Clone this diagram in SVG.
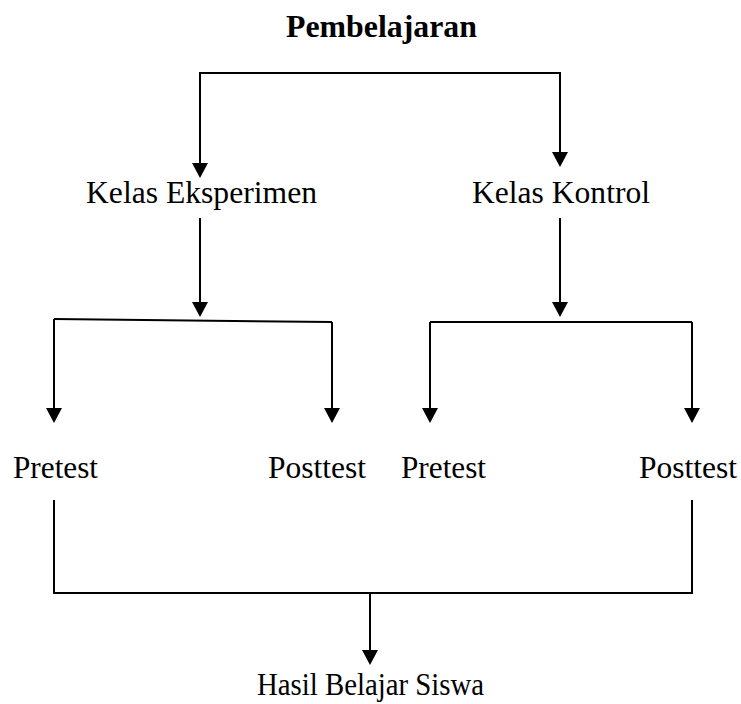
<svg xmlns="http://www.w3.org/2000/svg" width="741" height="704" viewBox="0 0 741 704">
  <style>
    text { font-family: "Liberation Serif", "Times New Roman", serif; font-size: 31.5px; fill: #000; }
    .title { font-weight: bold; }
    .ln { fill: none; stroke: #000; stroke-width: 2; }
    .arr { fill: none; stroke: #000; stroke-width: 2; marker-end: url(#ah); }
  </style>
  <defs>
    <marker id="ah" viewBox="0 0 15 16" refX="13" refY="8" markerWidth="15" markerHeight="16" markerUnits="userSpaceOnUse" orient="auto">
      <path d="M0,0 L15,8 L0,16 z" fill="#000"/>
    </marker>
  </defs>
  <rect width="741" height="704" fill="#fff"/>

  <g id="connectors">
    <path class="arr" d="M380,73 H200 V176"/>
    <path class="arr" d="M380,73 H560 V165"/>
    <path class="arr" d="M200,218 V315"/>
    <path class="arr" d="M560,218 V315"/>
    <path class="ln" d="M54,319 L332,322"/>
    <path class="arr" d="M54,319 V421"/>
    <path class="arr" d="M332,322 V421"/>
    <path class="ln" d="M430,322 H692"/>
    <path class="arr" d="M430,322 V421"/>
    <path class="arr" d="M692,322 V421"/>
    <path class="ln" d="M54,500 V593 H692 V500"/>
    <path class="arr" d="M370,593 V663"/>
  </g>

  <g id="node-pembelajaran">
    <text class="title" x="286" y="37" textLength="191" lengthAdjust="spacingAndGlyphs">Pembelajaran</text>
  </g>
  <g id="node-kelas-eksperimen">
    <text x="86" y="203" textLength="231" lengthAdjust="spacingAndGlyphs">Kelas Eksperimen</text>
  </g>
  <g id="node-kelas-kontrol">
    <text x="472" y="203" textLength="178" lengthAdjust="spacingAndGlyphs">Kelas Kontrol</text>
  </g>
  <g id="node-pretest-eksperimen">
    <text x="13" y="478" textLength="85" lengthAdjust="spacingAndGlyphs">Pretest</text>
  </g>
  <g id="node-posttest-eksperimen">
    <text x="268" y="478" textLength="98" lengthAdjust="spacingAndGlyphs">Posttest</text>
  </g>
  <g id="node-pretest-kontrol">
    <text x="401" y="478" textLength="85" lengthAdjust="spacingAndGlyphs">Pretest</text>
  </g>
  <g id="node-posttest-kontrol">
    <text x="639" y="478" textLength="98" lengthAdjust="spacingAndGlyphs">Posttest</text>
  </g>
  <g id="node-hasil">
    <text x="257" y="695" textLength="227" lengthAdjust="spacingAndGlyphs">Hasil Belajar Siswa</text>
  </g>
</svg>
